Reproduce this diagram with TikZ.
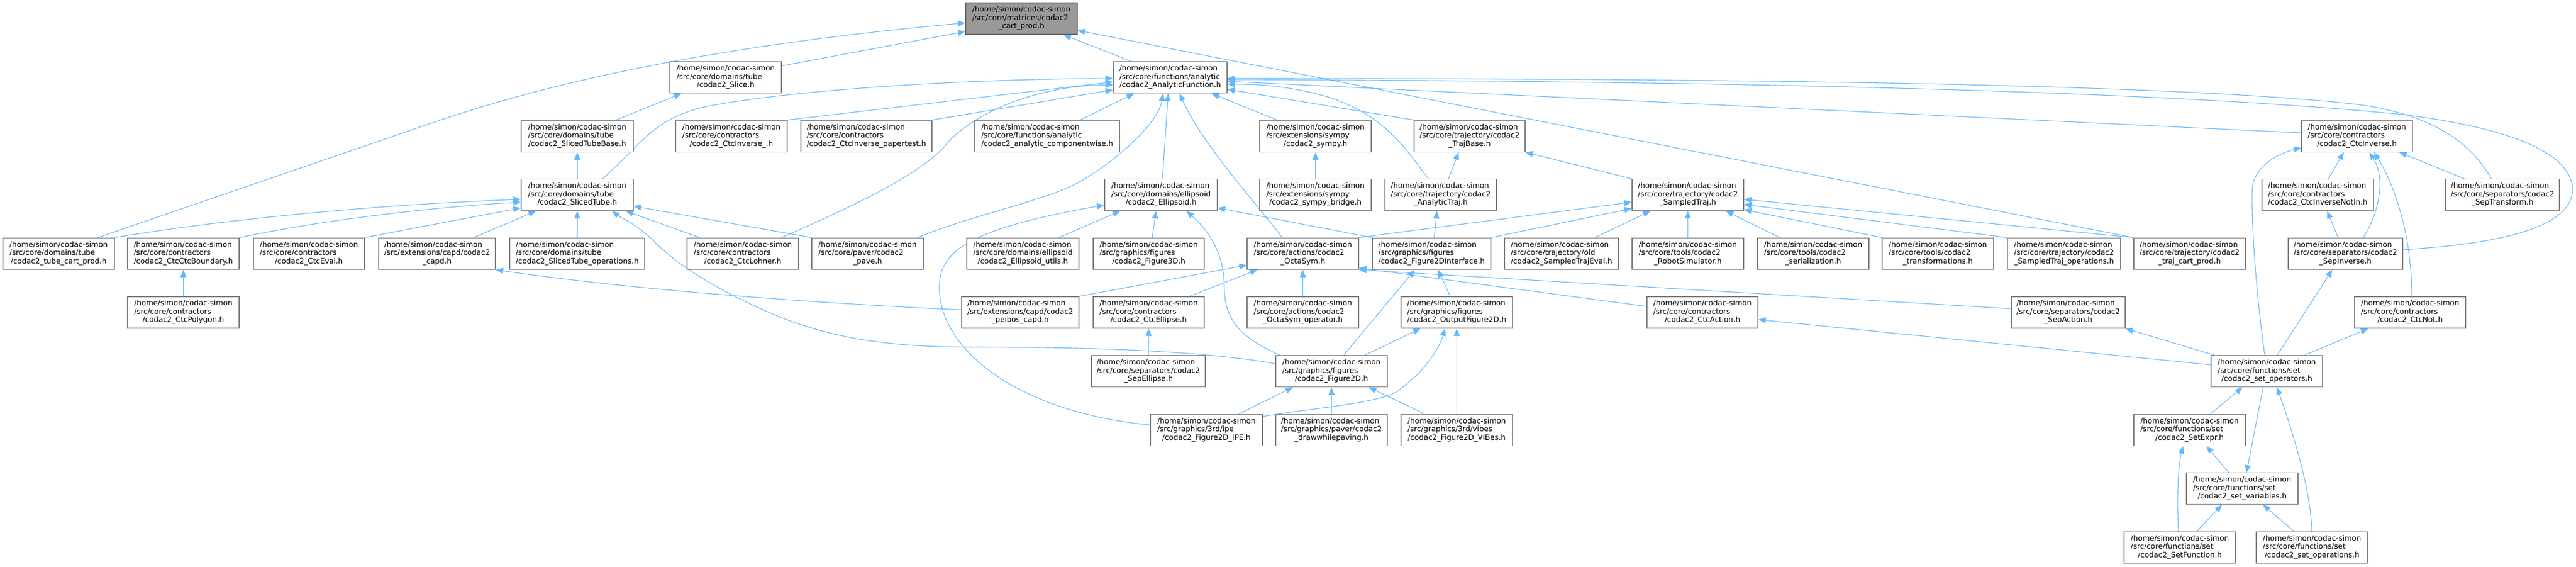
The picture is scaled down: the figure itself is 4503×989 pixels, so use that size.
\documentclass[tikz,border=0pt]{standalone}
\usepackage{fontspec}
\setmainfont{DejaVu Sans}
\usetikzlibrary{arrows.meta}
\pgfdeclarelayer{bg}
\pgfdeclarelayer{edges}
\pgfsetlayers{bg,edges,main}
\definecolor{edgeblue}{HTML}{63B8FF}
\definecolor{boxgray}{HTML}{808080}
\definecolor{curfill}{HTML}{999999}
\definecolor{curdraw}{HTML}{666666}
\newcommand{\lbl}[2]{\begin{tabular}{@{}l@{}}/home/simon/codac-simon\\#1\\\multicolumn{1}{@{}c@{}}{#2}\end{tabular}}
\begin{document}
\begin{tikzpicture}[x=1pt,y=-1pt,
  box/.style={draw=boxgray, line width=1.3pt, fill=white, minimum height=55pt, inner sep=0pt,
    font=\fontsize{13}{14.5}\selectfont},
  cur/.style={box, fill=curfill, draw=curdraw},
  conn/.style={draw=edgeblue, line width=1.1pt, -{Triangle[length=13pt,width=10.5pt]}}]
\useasboundingbox (0,0) rectangle (4503,989);
\begin{pgfonlayer}{bg}
\fill[white] (0,0) rectangle (4503,989);
\end{pgfonlayer}
% row 0
\node[cur, minimum width=195pt] (cart) at (1785.5,32.5) {\lbl{/src/core/matrices/codac2}{\_cart\_prod.h}};
% row 1
\node[box, minimum width=195pt] (slice) at (1268.5,135.1) {\lbl{/src/core/domains/tube}{/codac2\_Slice.h}};
\node[box, minimum width=199pt] (af) at (2045.5,135.1) {\lbl{/src/core/functions/analytic}{/codac2\_AnalyticFunction.h}};
% row 2
\node[box, minimum width=196pt] (stb) at (1009,237.7) {\lbl{/src/core/domains/tube}{/codac2\_SlicedTubeBase.h}};
\node[box, minimum width=195pt] (ciu) at (1278.5,237.7) {\lbl{/src/core/contractors}{/codac2\_CtcInverse\_.h}};
\node[box, minimum width=229pt] (cip) at (1514.5,237.7) {\lbl{/src/core/contractors}{/codac2\_CtcInverse\_papertest.h}};
\node[box, minimum width=253pt] (acw) at (1830.5,237.7) {\lbl{/src/core/functions/analytic}{/codac2\_analytic\_componentwise.h}};
\node[box, minimum width=195pt] (sym) at (2299.5,237.7) {\lbl{/src/extensions/sympy}{/codac2\_sympy.h}};
\node[box, minimum width=194pt] (tb) at (2569,237.7) {\lbl{/src/core/trajectory/codac2}{\_TrajBase.h}};
\node[box, minimum width=194pt] (ci) at (4120,237.7) {\lbl{/src/core/contractors}{/codac2\_CtcInverse.h}};
% row 3
\node[box, minimum width=196pt] (st) at (1009,340.3) {\lbl{/src/core/domains/tube}{/codac2\_SlicedTube.h}};
\node[box, minimum width=197pt] (ell) at (2029.5,340.3) {\lbl{/src/core/domains/ellipsoid}{/codac2\_Ellipsoid.h}};
\node[box, minimum width=195pt] (symb) at (2299.5,340.3) {\lbl{/src/extensions/sympy}{/codac2\_sympy\_bridge.h}};
\node[box, minimum width=195pt] (at) at (2518.5,340.3) {\lbl{/src/core/trajectory/codac2}{\_AnalyticTraj.h}};
\node[box, minimum width=195pt] (sdt) at (2950.5,340.3) {\lbl{/src/core/trajectory/codac2}{\_SampledTraj.h}};
\node[box, minimum width=195pt] (cin) at (4051.5,340.3) {\lbl{/src/core/contractors}{/codac2\_CtcInverseNotIn.h}};
\node[box, minimum width=199pt] (stf) at (4374.5,340.3) {\lbl{/src/core/separators/codac2}{\_SepTransform.h}};
% row 4
\node[box, minimum width=195pt] (tcp) at (102.5,442.9) {\lbl{/src/core/domains/tube}{/codac2\_tube\_cart\_prod.h}};
\node[box, minimum width=195pt] (ccb) at (320.5,442.9) {\lbl{/src/core/contractors}{/codac2\_CtcCtcBoundary.h}};
\node[box, minimum width=194pt] (cev) at (540,442.9) {\lbl{/src/core/contractors}{/codac2\_CtcEval.h}};
\node[box, minimum width=204pt] (capd) at (764,442.9) {\lbl{/src/extensions/capd/codac2}{\_capd.h}};
\node[box, minimum width=236pt] (sto) at (1009,442.9) {\lbl{/src/core/domains/tube}{/codac2\_SlicedTube\_operations.h}};
\node[box, minimum width=195pt] (clo) at (1298.5,442.9) {\lbl{/src/core/contractors}{/codac2\_CtcLohner.h}};
\node[box, minimum width=195pt] (pave) at (1516.5,442.9) {\lbl{/src/core/paver/codac2}{\_pave.h}};
\node[box, minimum width=196pt] (eu) at (1788,442.9) {\lbl{/src/core/domains/ellipsoid}{/codac2\_Ellipsoid\_utils.h}};
\node[box, minimum width=194pt] (f3d) at (2008,442.9) {\lbl{/src/graphics/figures}{/codac2\_Figure3D.h}};
\node[box, minimum width=195pt] (os) at (2277.5,442.9) {\lbl{/src/core/actions/codac2}{\_OctaSym.h}};
\node[box, minimum width=207pt] (f2di) at (2502.5,442.9) {\lbl{/src/graphics/figures}{/codac2\_Figure2DInterface.h}};
\node[box, minimum width=199pt] (ste) at (2729.5,442.9) {\lbl{/src/core/trajectory/old}{/codac2\_SampledTrajEval.h}};
\node[box, minimum width=195pt] (rs) at (2950.5,442.9) {\lbl{/src/core/tools/codac2}{\_RobotSimulator.h}};
\node[box, minimum width=195pt] (ser) at (3169.5,442.9) {\lbl{/src/core/tools/codac2}{\_serialization.h}};
\node[box, minimum width=195pt] (tra) at (3387.5,442.9) {\lbl{/src/core/tools/codac2}{\_transformations.h}};
\node[box, minimum width=198pt] (sto2) at (3608,442.9) {\lbl{/src/core/trajectory/codac2}{\_SampledTraj\_operations.h}};
\node[box, minimum width=195pt] (tjcp) at (3827.5,442.9) {\lbl{/src/core/trajectory/codac2}{\_traj\_cart\_prod.h}};
\node[box, minimum width=200pt] (sinv) at (4100,442.9) {\lbl{/src/core/separators/codac2}{\_SepInverse.h}};
% row 5
\node[box, minimum width=195pt] (cpoly) at (320.5,545.5) {\lbl{/src/core/contractors}{/codac2\_CtcPolygon.h}};
\node[box, minimum width=205pt] (peib) at (1783.5,545.5) {\lbl{/src/extensions/capd/codac2}{\_peibos\_capd.h}};
\node[box, minimum width=194pt] (cell) at (2008,545.5) {\lbl{/src/core/contractors}{/codac2\_CtcEllipse.h}};
\node[box, minimum width=195pt] (oso) at (2277.5,545.5) {\lbl{/src/core/actions/codac2}{\_OctaSym\_operator.h}};
\node[box, minimum width=195pt] (of2d) at (2546.5,545.5) {\lbl{/src/graphics/figures}{/codac2\_OutputFigure2D.h}};
\node[box, minimum width=194pt] (cact) at (2976,545.5) {\lbl{/src/core/contractors}{/codac2\_CtcAction.h}};
\node[box, minimum width=199pt] (sact) at (3615.5,545.5) {\lbl{/src/core/separators/codac2}{\_SepAction.h}};
\node[box, minimum width=194pt] (cnot) at (4213,545.5) {\lbl{/src/core/contractors}{/codac2\_CtcNot.h}};
% row 6
\node[box, minimum width=199pt] (sell) at (2007.5,648.1) {\lbl{/src/core/separators/codac2}{\_SepEllipse.h}};
\node[box, minimum width=195pt] (f2d) at (2327.5,648.1) {\lbl{/src/graphics/figures}{/codac2\_Figure2D.h}};
\node[box, minimum width=195pt] (sop) at (3962.5,648.1) {\lbl{/src/core/functions/set}{/codac2\_set\_operators.h}};
% row 7
\node[box, minimum width=196pt] (fipe) at (2109,750.7) {\lbl{/src/graphics/3rd/ipe}{/codac2\_Figure2D\_IPE.h}};
\node[box, minimum width=195pt] (dwp) at (2327.5,750.7) {\lbl{/src/graphics/paver/codac2}{\_drawwhilepaving.h}};
\node[box, minimum width=195pt] (fvib) at (2546.5,750.7) {\lbl{/src/graphics/3rd/vibes}{/codac2\_Figure2D\_VIBes.h}};
\node[box, minimum width=195pt] (sexp) at (3827.5,750.7) {\lbl{/src/core/functions/set}{/codac2\_SetExpr.h}};
% row 8
\node[box, minimum width=195pt] (svar) at (3919.5,853.3) {\lbl{/src/core/functions/set}{/codac2\_set\_variables.h}};
% row 9
\node[box, minimum width=195pt] (sfun) at (3810.5,955.9) {\lbl{/src/core/functions/set}{/codac2\_SetFunction.h}};
\node[box, minimum width=195pt] (sops) at (4041.5,955.9) {\lbl{/src/core/functions/set}{/codac2\_set\_operations.h}};

\begin{pgfonlayer}{edges}
% into cart_prod
\draw[conn] ([xshift=68.5pt]tcp.north) -- (760,213) .. controls (1000,131) and (1300,75) .. ([yshift=-7.5pt]cart.west);
\draw[conn] ([yshift=20.1pt]slice.east) -- ([yshift=-22.5pt]cart.west);
\draw[conn] ([xshift=-68.5pt]af.north) -- ([xshift=73.5pt]cart.south);
\draw[conn] (tjcp.north west) -- ([yshift=-20.5pt]cart.east);
% slice chain
\draw[conn] ([xshift=68pt]stb.north) -- ([xshift=-77.5pt]slice.south);
\draw[conn] (st.north) -- (stb.south);
% into AnalyticFunction
\draw[conn] ([xshift=44pt]st.north) .. controls (1120,255) and (1140,205) .. (1240,185) .. controls (1400,155) and (1700,138) .. ([yshift=-1.9pt]af.west);
\draw[conn] (ciu.north east) -- ([yshift=-7.9pt]af.west);
\draw[conn] (cip.north east) -- ([yshift=-21.9pt]af.west);
\draw[conn] ([xshift=67.5pt]clo.north) .. controls (1480,365) and (1600,310) .. (1650,257) .. controls (1690,205) and (1800,150) .. ([yshift=-12.9pt]af.west);
\draw[conn] ([xshift=57.5pt]acw.north) -- ([xshift=-63pt]af.south);
\draw[conn] ([xshift=87.5pt]pave.north) .. controls (1700,375) and (1830,350) .. (1888,317) .. controls (1950,282) and (2025,215) .. ([xshift=-12.5pt]af.south);
\draw[conn] ([xshift=2.5pt]ell.north) -- ([xshift=-3.5pt]af.south);
\draw[conn] ([xshift=-36pt]os.north) .. controls (2200,360) and (2100,250) .. ([xshift=16.5pt]af.south);
\draw[conn] ([xshift=-67.5pt]sym.north) -- ([xshift=72.5pt]af.south);
\draw[conn] ([xshift=-21.5pt]at.north) .. controls (2450,250) and (2420,205) .. (2330,172) .. controls (2260,150) and (2200,147) .. ([yshift=-11.9pt]af.east);
\draw[conn] (tb.north west) -- ([yshift=-20.9pt]af.east);
\draw[conn] ([yshift=5.7pt]ci.west) -- ([yshift=-6.9pt]af.east);
\draw[conn] ([xshift=-19.5pt]stf.north) .. controls (4320,250) and (4250,195) .. (4100,180) .. controls (3800,150) and (3200,137) .. ([yshift=-1.9pt]af.east);
\draw[conn] ([yshift=6.9pt]sinv.east) .. controls (4380,425) and (4497,395) .. (4497,330) .. controls (4494,270) and (4400,225) .. (4200,200) .. controls (3850,165) and (3200,142) .. ([yshift=-3.9pt]af.east);
% into SlicedTube
\draw[conn] (tcp.north east) .. controls (350,390) and (600,360) .. ([yshift=-7.7pt]st.west);
\draw[conn] (ccb.north east) .. controls (560,385) and (750,362) .. ([yshift=-12.7pt]st.west);
\draw[conn] (cev.north east) -- ([yshift=-22.7pt]st.west);
\draw[conn] ([xshift=64pt]capd.north) -- ([xshift=-72pt]st.south);
\draw[conn] (sto.north) -- (st.south);
\draw[conn] ([yshift=13.1pt]f2d.west) .. controls (2100,612) and (1900,606) .. (1700,606) .. controls (1550,606) and (1450,590) .. (1350,548) .. controls (1250,505) and (1180,460) .. (1140,418) .. controls (1110,390) and (1085,380) .. ([xshift=61pt]st.south);
\draw[conn] ([xshift=-75.5pt]clo.north) -- ([xshift=85pt]st.south);
\draw[conn] (pave.north west) -- ([yshift=-19.7pt]st.east);
% misc left
\draw[conn] (cpoly.north) -- (ccb.south);
\draw[conn] ([yshift=4.5pt]peib.west) .. controls (1400,528) and (1100,505) .. (capd.south east);
\draw[conn] (peib.north east) -- ([yshift=-20.1pt]os.west);
% into Ellipsoid
\draw[conn] ([xshift=63pt]eu.north) -- ([xshift=-71.5pt]ell.south);
\draw[conn] ([xshift=6pt]f3d.north) -- ([xshift=-8.5pt]ell.south);
\draw[conn] ([xshift=-90.5pt]f2d.north) .. controls (2170,590) and (2140,560) .. (2140,500) .. controls (2140,440) and (2110,400) .. ([xshift=44.5pt]ell.south);
\draw[conn] (f2di.north west) -- ([yshift=-22.7pt]ell.east);
\draw[conn] ([yshift=8.7pt]fipe.west) .. controls (1780,720) and (1640,610) .. (1642,500) .. controls (1643,440) and (1690,400) .. ([yshift=-17.7pt]ell.west);
% trajectories
\draw[conn] (symb.north) -- (sym.south);
\draw[conn] ([xshift=13.5pt]at.north) -- ([xshift=-19pt]tb.south);
\draw[conn] (sdt.north west) -- (tb.south east);
\draw[conn] ([xshift=4.5pt]f2di.north) -- ([xshift=-6.5pt]at.south);
\draw[conn] (os.north east) -- ([yshift=-12.7pt]sdt.west);
\draw[conn] (f2di.north east) -- ([yshift=-23.7pt]sdt.west);
\draw[conn] ([xshift=58.5pt]ste.north) -- ([xshift=-65.5pt]sdt.south);
\draw[conn] (rs.north) -- (sdt.south);
\draw[conn] ([xshift=-58.5pt]ser.north) -- ([xshift=66.5pt]sdt.south);
\draw[conn] (tra.north west) -- ([yshift=-25.7pt]sdt.east);
\draw[conn] (sto2.north west) -- ([yshift=-16.7pt]sdt.east);
\draw[conn] (tjcp.north west) -- ([yshift=-7.7pt]sdt.east);
% into OctaSym
\draw[conn] (oso.north) -- (os.south);
\draw[conn] ([xshift=71pt]cell.north) -- ([xshift=-79.5pt]os.south);
\draw[conn] ([yshift=10.5pt]cact.west) -- ([yshift=3pt]os.south east);
\draw[conn] ([yshift=6.5pt]sact.west) -- (os.south east);
\draw[conn] (sell.north) -- (cell.south);
% figures
\draw[conn] ([xshift=21.5pt]f2d.north) -- ([xshift=-29.5pt]f2di.south);
\draw[conn] ([xshift=-11.5pt]of2d.north) -- ([xshift=11.5pt]f2di.south);
\draw[conn] ([xshift=58.5pt]f2d.north) -- ([xshift=-63.5pt]of2d.south);
\draw[conn] ([yshift=23.7pt]fipe.east) .. controls (2300,712) and (2400,705) .. (2440,685) .. controls (2490,650) and (2515,610) .. ([xshift=-20.5pt]of2d.south);
\draw[conn] (fvib.north) -- (of2d.south);
\draw[conn] ([xshift=57pt]fipe.north) -- ([xshift=-67.5pt]f2d.south);
\draw[conn] (dwp.north) -- (f2d.south);
\draw[conn] ([xshift=-56.5pt]fvib.north) -- ([xshift=65.5pt]f2d.south);
% set operators
\draw[conn] ([yshift=11.1pt]sop.west) -- ([yshift=-12.5pt]cact.east);
\draw[conn] ([xshift=6pt]sop.north west) -- (sact.south east);
\draw[conn] ([xshift=-3.5pt]sop.north) .. controls (3950,560) and (3935,420) .. (3937,330) .. controls (3939,295) and (3975,270) .. ([yshift=-20.3pt]ci.west);
\draw[conn] ([xshift=18.5pt]sop.north) -- ([xshift=-23pt]sinv.south);
\draw[conn] ([xshift=66.5pt]sop.north) -- ([xshift=-73pt]cnot.south);
\draw[conn] ([xshift=3pt]cnot.north) .. controls (4216,420) and (4190,330) .. ([xshift=30pt]ci.south);
\draw[conn] ([xshift=18.5pt]cin.north) -- ([xshift=-23pt]ci.south);
\draw[conn] ([xshift=-13pt]sinv.north) -- ([xshift=16.5pt]cin.south);
\draw[conn] ([xshift=31pt]sinv.north) .. controls (4160,370) and (4170,310) .. ([xshift=22pt]ci.south);
\draw[conn] ([xshift=-66.5pt]stf.north) -- ([xshift=74pt]ci.south);
\draw[conn] ([xshift=36.5pt]sexp.north) -- ([xshift=-42.5pt]sop.south);
\draw[conn] ([xshift=-0.5pt]sops.north) .. controls (4040,860) and (4010,760) .. ([xshift=17.5pt]sop.south);
\draw[conn] ([xshift=-6.5pt]sop.south) -- ([xshift=7.5pt]svar.north);
\draw[conn] ([xshift=-2.5pt]sfun.north) .. controls (3805,860) and (3808,810) .. ([xshift=-11.5pt]sexp.south);
\draw[conn] ([xshift=-23.5pt]svar.north) -- ([xshift=29.5pt]sexp.south);
\draw[conn] ([xshift=29.5pt]sfun.north) -- ([xshift=-35.5pt]svar.south);
\draw[conn] ([xshift=-31.5pt]sops.north) -- ([xshift=36.5pt]svar.south);
\end{pgfonlayer}
\end{tikzpicture}
\end{document}
